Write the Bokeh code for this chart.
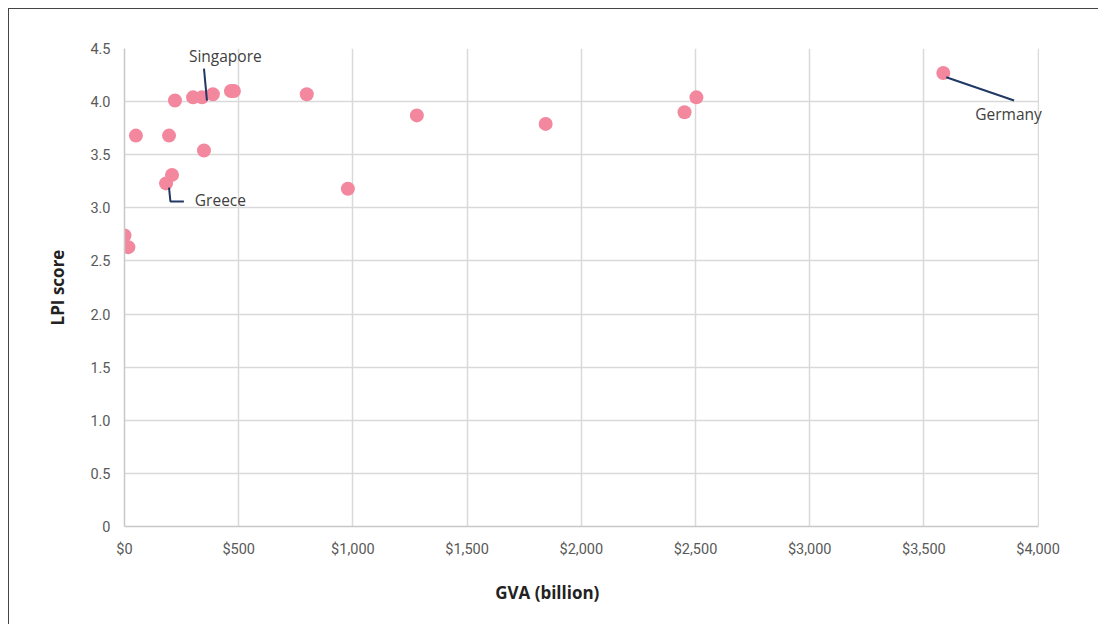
from bokeh.plotting import figure
from bokeh.embed import file_html
from bokeh.resources import INLINE
from bokeh.models import (Range1d, NumeralTickFormatter, CustomJSTickFormatter,
                          FixedTicker, ColumnDataSource, LabelSet)
from bokeh.core.properties import value

# GVA (billion) vs LPI score
gva = [0, 17, 50, 195, 221, 182, 208, 300, 339, 348, 387, 466, 479,
       798, 978, 1280, 1844, 2452, 2504, 3585]
lpi = [2.74, 2.63, 3.68, 3.68, 4.01, 3.23, 3.31, 4.04, 4.04, 3.54, 4.07,
       4.10, 4.10, 4.07, 3.18, 3.87, 3.79, 3.90, 4.04, 4.27]

x_ticks = [0, 500, 1000, 1500, 2000, 2500, 3000, 3500, 4000]
y_ticks = [0, 0.5, 1.0, 1.5, 2.0, 2.5, 3.0, 3.5, 4.0, 4.5]

# annotations: label, label position, leader line
ann_labels = ["Singapore", "Greece", "Germany"]
ann_x = [282, 308, 3725]
ann_y = [4.43, 3.07, 3.88]
lead_sg_x = [348, 361]
lead_sg_y = [4.31, 4.01]
lead_gr_x = [195, 201, 260]
lead_gr_y = [3.19, 3.06, 3.06]
lead_de_x = [3598, 3895]
lead_de_y = [4.23, 4.01]

X_MAX = 4000
X_PAD = 50     # extra room so the "Germany" label is not clipped
Y_MAX = 4.5

FONT = "Roboto"
TITLE_FONT = "Open Sans"
TICK_COLOR = "#595959"
GRID = "#d9d9d9"

p = figure(width=1090, height=616, output_backend="svg", toolbar_location=None,
           x_range=Range1d(0, X_MAX + X_PAD), y_range=Range1d(0, Y_MAX),
           min_border_left=115, min_border_right=50, min_border_top=39,
           min_border_bottom=99)
p.styles = {"border-left": "1.5px solid #444444", "border-top": "1.5px solid #444444",
            "margin-left": "8px", "margin-top": "8px"}
p.outline_line_color = None

p.xaxis.ticker = FixedTicker(ticks=x_ticks)
p.yaxis.ticker = FixedTicker(ticks=y_ticks)
p.xaxis.bounds = (0, X_MAX)
p.xaxis.formatter = NumeralTickFormatter(format="$0,0")
p.yaxis.formatter = CustomJSTickFormatter(code="return tick == 0 ? '0' : tick.toFixed(1);")

for ax in (p.xaxis, p.yaxis):
    ax.major_tick_line_color = None
    ax.minor_tick_line_color = None
    ax.axis_line_color = "#c8c8c8"
    ax.axis_line_width = 1.5
    ax.major_label_text_font = FONT
    ax.major_label_text_font_size = "14.5px"
    ax.major_label_text_color = TICK_COLOR
    ax.axis_label_text_font = TITLE_FONT
    ax.axis_label_text_font_size = "17px"
    ax.axis_label_text_font_style = "bold"
    ax.axis_label_text_color = "#222222"

# trailing no-break spaces shift the centred title left, as in the original
p.xaxis.axis_label = "GVA (billion)" + "\u00a0" * 18
p.yaxis.axis_label = "LPI score"
p.xaxis.major_label_standoff = 8
p.yaxis.major_label_standoff = 8
p.xaxis.axis_label_standoff = 20
p.yaxis.axis_label_standoff = 18

p.xgrid.grid_line_color = GRID
p.ygrid.grid_line_color = GRID
p.xgrid.grid_line_width = 1.5
p.ygrid.grid_line_width = 1.5

# white mask hiding horizontal grid lines beyond the last x gridline
p.quad(left=[X_MAX + 4], right=[X_MAX + X_PAD], bottom=[-0.1], top=[Y_MAX + 0.1],
       fill_color="white", line_color=None)

src = ColumnDataSource(data=dict(x=gva, y=lpi))
p.scatter("x", "y", source=src, size=14, fill_color="#f2879e", line_color=None)

LEAD = "#1f3864"
p.line(lead_sg_x, lead_sg_y, line_color=LEAD, line_width=2)
p.line(lead_gr_x, lead_gr_y, line_color=LEAD, line_width=2)
p.line(lead_de_x, lead_de_y, line_color=LEAD, line_width=2)

ann_src = ColumnDataSource(data=dict(x=ann_x, y=ann_y, t=ann_labels))
p.add_layout(LabelSet(x="x", y="y", text="t", source=ann_src, level="overlay",
                      text_font=value(TITLE_FONT), text_font_size="15.5px",
                      text_color="#404040", text_baseline="middle",
                      text_align="left"))

open("out.html", "w").write(file_html(p, INLINE))
